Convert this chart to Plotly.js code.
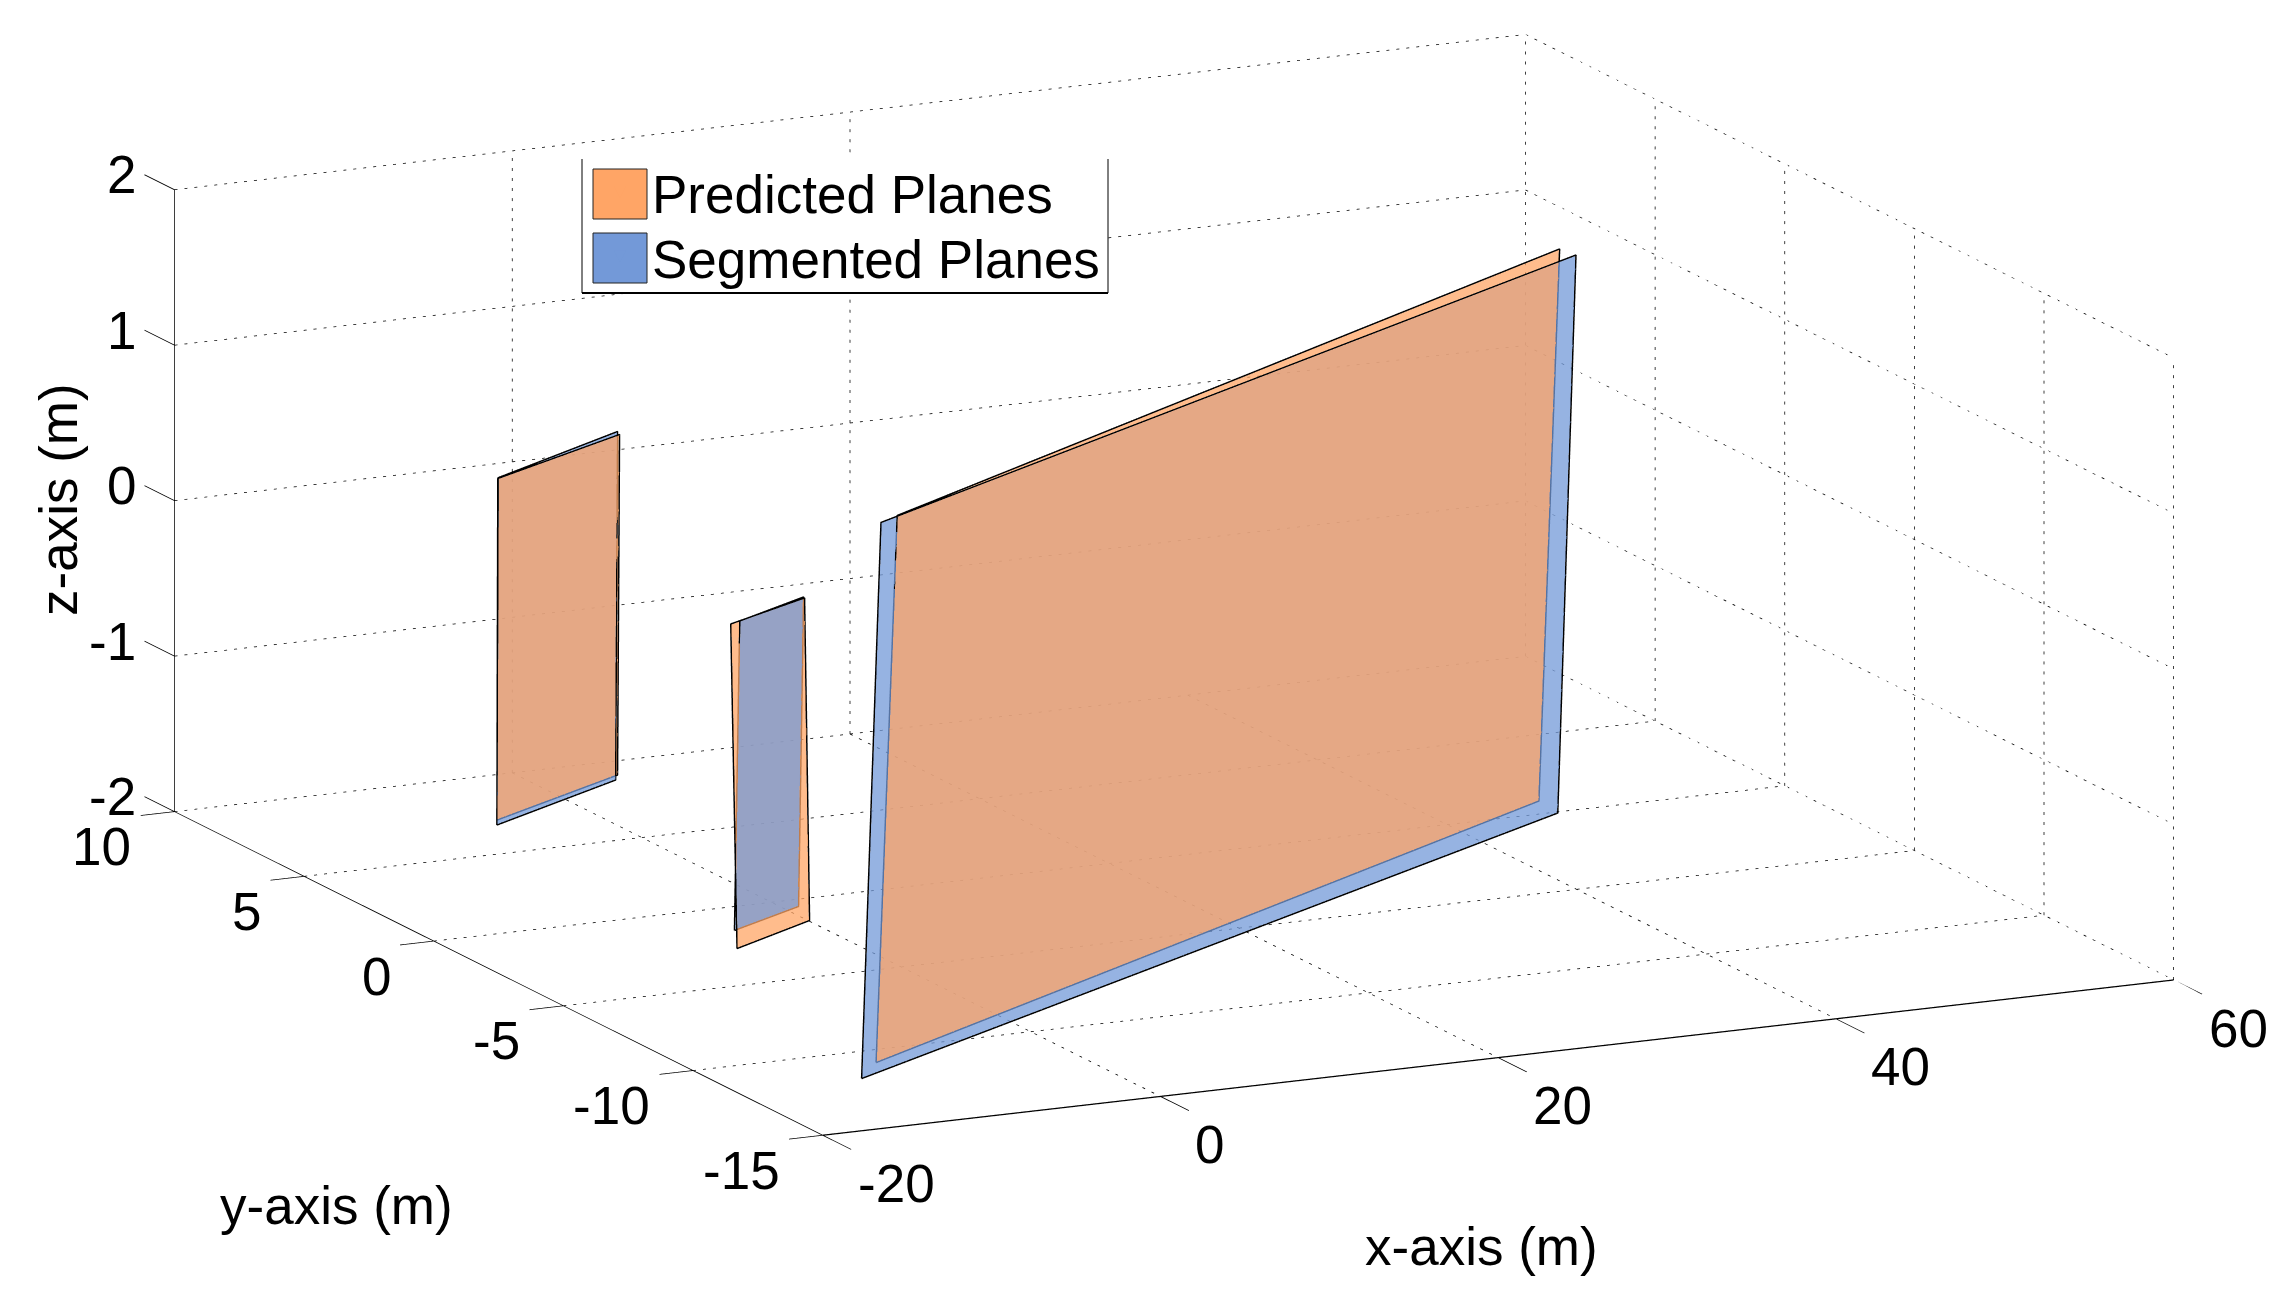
<!DOCTYPE html>
<html><head><meta charset="utf-8">
<script src="https://cdn.plot.ly/plotly-3.0.1.min.js"></script>
<style>html,body{margin:0;padding:0;background:#fff}#c{width:2292px;height:1303px}</style></head>
<body><div id="c"></div>
<script>
const xTicks=[-20,0,20,40,60], yTicks=[-15,-10,-5,0,5,10], zTicks=[-2,-1,0,1,2];
const xWallRules=[0,20,60];
// plane corners [big, left, small]
const predX=[[-10.42,46.70,46.96,-10.63],[-12.79,-2.64,-2.69,-12.80],[-13.62,-7.42,-6.55,-12.61]];
const predY=[[-10.82,0.82,0.19,-11.77],[2.26,4.22,4.11,2.22],[-7.54,-6.30,-5.54,-6.64]];
const predZ=[[-2,-2,1.6,1.6],[-1.5,-1.5,0.7,0.7],[-1.5,-1.5,0.5,0.5]];
const segX=[[-12.66,46.45,47.16,-12.08],[-13.27,-3.21,-2.50,-12.70],[-11.99,-6.60,-6.50,-11.89]];
const segY=[[-11.72,-0.07,-0.31,-12.09],[1.95,3.92,4.31,2.27],[-6.38,-5.34,-5.47,-6.52]];
const segZ=[[-2,-2,1.6,1.6],[-1.5,-1.5,0.7,0.7],[-1.5,-1.5,0.5,0.5]];
const names=['Predicted Planes','Segmented Planes'];

const xMin=-20,xMax=60,yMin=-15,yMax=10,zMin=-2,zMax=2;
const xPad=2,yPadLow=1.1,yPadHigh=1.16;
const font='"Liberation Sans", Arial, sans-serif';
const FS=53;
const ORANGE='#FFA566',BLUE='#7399D8';

function poly(segs){const X=[],Y=[],Z=[];segs.forEach(s=>{X.push(s[0],s[3],null);Y.push(s[1],s[4],null);Z.push(s[2],s[5],null);});return {x:X,y:Y,z:Z};}
// dotted rule: short solid pieces, so the dots stay as fine as in the reference
function dotted(segs,pitch,duty){const out=[];segs.forEach(s=>{const dx=s[3]-s[0],dy=s[4]-s[1],dz=s[5]-s[2];
  const px=Math.hypot(dx*16.9-dy*25.8,-dx*1.94+(-dy)*12.9-dz*155.75);const n=Math.max(1,Math.round(px/pitch));
  for(let k=0;k<n;k++){const a=k/n,b=(k+duty)/n;out.push([s[0]+dx*a,s[1]+dy*a,s[2]+dz*a,s[0]+dx*b,s[1]+dy*b,s[2]+dz*b]);}});return out;}
let grid=[];
xWallRules.forEach(v=>grid.push([v,yMax,zMin,v,yMax,zMax]));
xTicks.forEach(v=>grid.push([v,yMax,zMin,v,yMin,zMin]));
yTicks.forEach(v=>{ grid.push([xMax,v,zMin,xMax,v,zMax]);
  grid.push([xMin,v,zMin,xMax,v,zMin]);});
zTicks.forEach(v=>{ grid.push([xMin,yMax,v,xMax,yMax,v]);
  grid.push([xMax,yMax,v,xMax,yMin,v]);});
let axes=[[xMin,yMax,zMin,xMin,yMin,zMin],[xMin,yMax,zMin,xMin,yMax,zMax]];
xTicks.forEach(v=>axes.push([v,yMin,zMin,v,yMin-yPadLow,zMin]));
yTicks.forEach(v=>axes.push([xMin,v,zMin,xMin-xPad,v,zMin]));
zTicks.forEach(v=>axes.push([xMin,yMax,v,xMin,yMax+yPadHigh,v]));
const xAxisLine=[[xMin,yMin,zMin,xMax,yMin,zMin]];

const line3=(d,color,width)=>Object.assign({type:'scatter3d',mode:'lines',line:{color,width},hoverinfo:'skip',showlegend:false,connectgaps:false},d);
function mesh(X,Y,Z,color,name,show,rank){return {type:'mesh3d',x:X,y:Y,z:Z,i:[0,0],j:[1,2],k:[2,3],color,opacity:0.75,flatshading:true,
  lighting:{ambient:1,diffuse:0,specular:0,roughness:1,fresnel:0},name,legendgroup:name,showlegend:show,legendrank:rank,hoverinfo:'skip'};}
function outline(X,Y,Z){return line3({x:X.concat(X[0]),y:Y.concat(Y[0]),z:Z.concat(Z[0])},'#000',3);}

const traces=[line3(poly(dotted(grid,10,0.3)),'#000',1.5),line3(poly(axes),'#000',1.5),line3(poly(xAxisLine),'#000',2.5)];
for(let i=0;i<3;i++){traces.push(outline(segX[i],segY[i],segZ[i]),outline(predX[i],predY[i],predZ[i]));}
traces.push(mesh(segX[0],segY[0],segZ[0],BLUE,names[1],true,2));
traces.push(mesh(predX[0],predY[0],predZ[0],ORANGE,names[0],true,1));
traces.push(mesh(segX[1],segY[1],segZ[1],BLUE,names[1],false,2));
traces.push(mesh(predX[1],predY[1],predZ[1],ORANGE,names[0],false,1));
traces.push(mesh(predX[2],predY[2],predZ[2],ORANGE,names[0],false,1));
traces.push(mesh(segX[2],segY[2],segZ[2],BLUE,names[1],false,2));

const label=(x,y,z,text,xanchor,xshift,yshift)=>({x,y,z,text:String(text),showarrow:false,xanchor,yanchor:'middle',xshift,yshift,font:{family:font,size:FS,color:'#000'}});
const sceneAnn=[];
xTicks.forEach(v=>sceneAnn.push(label(v,yMin,zMin,v,'left',33,-48)));
yTicks.forEach(v=>sceneAnn.push(label(xMin,v,zMin,v,'right',-41,-35)));
zTicks.forEach(v=>sceneAnn.push(label(xMin,yMax,v,v,'right',-36,15)));

const phi=13.86*Math.PI/180,c=0.4326,e=0.9016,dist=8;
const dir=[-Math.cos(phi)*c,-Math.cos(phi)*e,Math.sin(phi)];
const R=[e,-c,0],U=[Math.sin(phi)*c,Math.sin(phi)*e,Math.cos(phi)];
const panR=-0.016,panU=-0.0999,zoom=2.30;
const center=[panR*R[0]+panU*U[0],panR*R[1]+panU*U[1],panR*R[2]+panU*U[2]];
const eye=[center[0]+dist*dir[0],center[1]+dist*dir[1],center[2]+dist*dir[2]];
const hid={visible:false,showgrid:false,zeroline:false,showspikes:false,autorange:false};
const xR=[xMin-xPad,xMax],yR=[yMin-yPadLow,yMax+yPadHigh],zR=[zMin,zMax];
const W=2292,H=1303;
const px=(v)=>v/W, py=(v)=>1-v/H;
const rectP=(x0,y0,x1,y1,fill,lc,lw)=>({type:'rect',xref:'paper',yref:'paper',x0:px(x0),x1:px(x1),y0:py(y0),y1:py(y1),fillcolor:fill,line:{color:lc,width:lw},layer:'above'});
const lineP=(x0,y0,x1,y1,lw)=>({type:'line',xref:'paper',yref:'paper',x0:px(x0),x1:px(x1),y0:py(y0),y1:py(y1),line:{color:'#000',width:lw},layer:'above'});
const title=(x,y,text,textangle)=>({xref:'paper',yref:'paper',x:px(x),y:py(y),xanchor:'center',yanchor:'middle',text,textangle:textangle||0,showarrow:false,font:{family:font,size:53,color:'#000'}});
const layout={width:W,height:H,margin:{l:0,r:0,t:0,b:0},paper_bgcolor:'#fff',font:{family:font,size:FS,color:'#000'},
 showlegend:true,
 legend:{x:px(588),y:py(148),xanchor:'left',yanchor:'top',bgcolor:'rgba(0,0,0,0)',borderwidth:0,font:{family:font,size:FS,color:'#000'},itemwidth:54,tracegroupgap:0},
 shapes:[rectP(582,159,1108,293,'#fff','rgba(0,0,0,0)',0),lineP(582,159,582,293,1),lineP(1108,159,1108,293,1),lineP(582,293,1108,293,2),
   rectP(593,169,647,219,ORANGE,'#222',1),rectP(593,233,647,283,BLUE,'#222',1)],
 scene:{domain:{x:[0,1],y:[0,1]},aspectmode:'manual',
  aspectratio:{x:zoom*(xR[1]-xR[0])/(xMax-xMin),y:zoom*(yR[1]-yR[0])/(yMax-yMin),z:zoom*0.4275},
  xaxis:Object.assign({range:xR},hid),yaxis:Object.assign({range:yR},hid),zaxis:Object.assign({range:zR},hid),
  camera:{eye:{x:eye[0],y:eye[1],z:eye[2]},center:{x:center[0],y:center[1],z:center[2]},up:{x:0,y:0,z:1},projection:{type:'orthographic'}},
  annotations:sceneAnn},
 annotations:[title(336,1205,'y-axis (m)'),title(1481,1246,'x-axis (m)'),title(58,500,'z-axis (m)',-90)]};
Plotly.newPlot('c',traces,layout,{displayModeBar:false,responsive:false}).then(gd=>{
  // tighten the legend rows to the reference's row pitch
  const nudges=[3,-4];
  gd.querySelectorAll('.legend .traces').forEach((t,i)=>{
    const m=/translate\(([-\d.]+)[ ,]+([-\d.]+)\)/.exec(t.getAttribute('transform')||'');
    if(m) t.setAttribute('transform','translate('+m[1]+','+(parseFloat(m[2])+nudges[i])+')');
  });
});
</script></body></html>
